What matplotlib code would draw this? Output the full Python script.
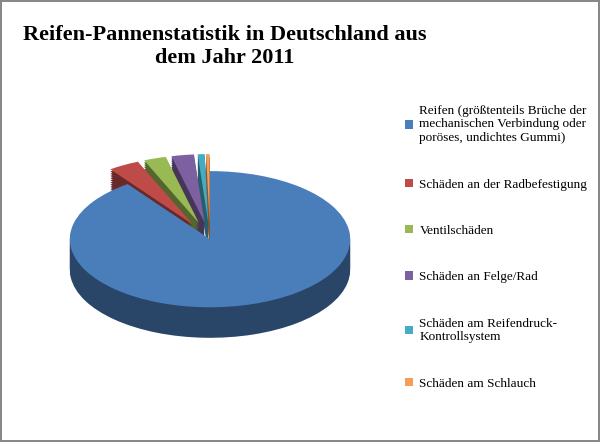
import matplotlib.pyplot as plt
from matplotlib.colors import to_rgb

labels = ["Reifen (größtenteils Brüche der\nmechanischen Verbindung oder\nporöses, undichtes Gummi)",
          "Schäden an der Radbefestigung",
          "Ventilschäden",
          "Schäden an Felge/Rad",
          "Schäden am Reifendruck-\nKontrollsystem",
          "Schäden am Schlauch"]
values = [90.0, 3.6, 2.6, 2.6, 0.8, 0.4]
colors = ["#4a7ebb", "#be4b48", "#98b954", "#7d60a0", "#46aac5", "#f59d56"]
explode = [0.0, 0.25, 0.25, 0.25, 0.25, 0.25]

plt.rcParams["font.family"] = "Liberation Serif"
fig = plt.figure(figsize=(6.0, 4.42), dpi=100)
fig.patch.set_edgecolor("#888888")
fig.patch.set_linewidth(1.5)
fig.text(0.375, 0.895, "Reifen-Pannenstatistik in Deutschland aus\ndem Jahr 2011",
         ha="center", va="center", fontsize=16, fontweight="bold", linespacing=1.25)

ax = fig.add_axes([0.1, 0.2, 0.5, 0.55])

def dark(c, f=0.55):
    return tuple(v * f for v in to_rgb(c))

# depth layers
for d in range(14, 0, -1):
    ax.pie(values, startangle=90, counterclock=False, explode=explode,
           colors=[dark(c) for c in colors], center=(0, -d * 0.032), radius=1,
           wedgeprops=dict(linewidth=0))
wedges, _ = ax.pie(values, startangle=90, counterclock=False, explode=explode,
                   colors=colors, radius=1, wedgeprops=dict(linewidth=0))
ax.set_aspect("auto")
ax.set_xlim(-1.07, 1.07)
ax.set_ylim(-1.68, 1.89)

leg = fig.legend(wedges, labels, loc="upper left", bbox_to_anchor=(0.655, 0.79),
                 frameon=False, fontsize=9.5, handlelength=0.6, handleheight=0.6,
                 labelspacing=2.6, handletextpad=0.5)
fig.savefig("out.png", dpi=100, edgecolor=fig.get_edgecolor())
